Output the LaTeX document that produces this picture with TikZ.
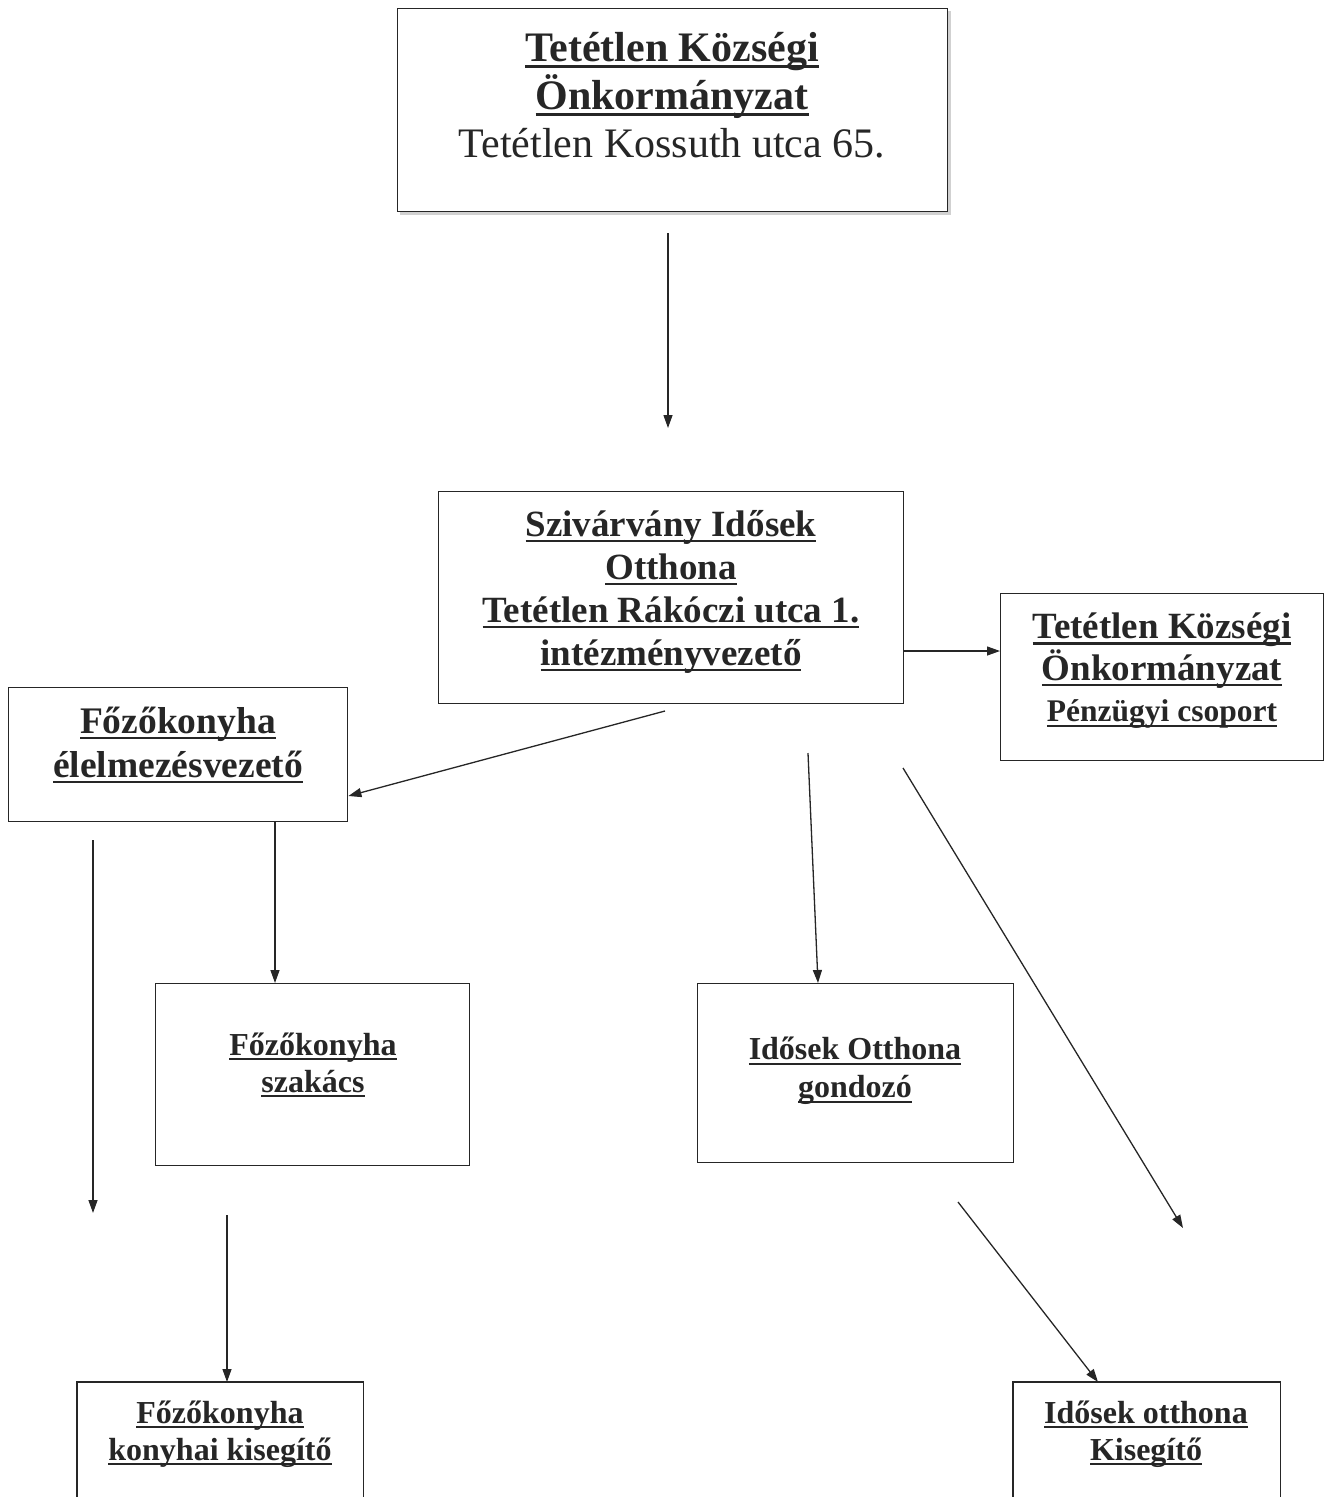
\documentclass[tikz,border=0pt]{standalone}
\usepackage{fontspec}
\setmainfont{Liberation Serif}
\usetikzlibrary{arrows.meta}
\newcommand\myul[1]{\mbox{\setbox0\hbox{#1}\rlap{\rule[-0.16em]{\wd0}{0.065em}}\box0}}
\definecolor{ink}{HTML}{262626}
\begin{document}
\begin{tikzpicture}[x=1pt,y=-1pt,
  box/.style={draw=ink, line width=1.4pt, inner sep=0pt, anchor=north west},
  arr/.style={draw=ink, line width=1.3pt, -{Triangle[length=13pt,width=9pt]}},
  lbl/.style={align=center, inner sep=0pt, text=ink}]
\useasboundingbox (0,0) rectangle (1327,1497);
\clip (0,0) rectangle (1327,1497);
% shadow of top box
\fill[black!18] (400,11) rectangle (951,215);
% boxes
\node[box, fill=white, minimum width=550pt, minimum height=203pt] (top) at (397,8) {};
\node[box, minimum width=465pt, minimum height=212pt] (mid) at (438,491) {};
\node[box, minimum width=323pt, minimum height=167pt] (pen) at (1000,593) {};
\node[box, minimum width=339pt, minimum height=134pt] (fv) at (8,687) {};
\node[box, minimum width=314pt, minimum height=182pt] (sz) at (155,983) {};
\node[box, minimum width=316pt, minimum height=179pt] (go) at (697,983) {};
\node[inner sep=0pt, anchor=north west, minimum width=286pt, minimum height=130pt] (kk) at (77,1382) {};
\node[inner sep=0pt, anchor=north west, minimum width=267pt, minimum height=130pt] (ok) at (1013,1382) {};
\draw[ink, line width=1.4pt] (kk.south west) -- (kk.north west) -- (kk.north east) -- (kk.south east);
\draw[ink, line width=1.4pt] (ok.south west) -- (ok.north west) -- (ok.north east) -- (ok.south east);
% texts
\node[lbl, font={\fontsize{42}{48}\selectfont}] (ttop) at (672,95)
  {\textbf{\myul{Tetétlen Községi}}\\ \textbf{\myul{Önkormányzat}}\\ Tetétlen Kossuth utca 65.};
\node[lbl, font={\fontsize{37}{43}\selectfont\bfseries}] (tmid) at (671,592)
  {\myul{Szivárvány Idősek}\\ \myul{Otthona}\\ \myul{Tetétlen Rákóczi utca 1.}\\ \myul{intézményvezető}};
\node[lbl, font={\fontsize{37}{41.5}\selectfont\bfseries}] (tpen) at (1162,671)
  {\myul{Tetétlen Községi}\\ \myul{Önkormányzat}\\ {\fontsize{31.5}{41.5}\selectfont\myul{Pénzügyi csoport}}};
\node[lbl, font={\fontsize{37.5}{44}\selectfont\bfseries}] (tfv) at (178,745)
  {\myul{Főzőkonyha}\\ \myul{élelmezésvezető}};
\node[lbl, font={\fontsize{32}{37}\selectfont\bfseries}] (tsz) at (313,1065)
  {\myul{Főzőkonyha}\\ \myul{szakács}};
\node[lbl, font={\fontsize{32}{38}\selectfont\bfseries}] (tgo) at (855,1071)
  {\myul{Idősek Otthona}\\ \myul{gondozó}};
\node[lbl, font={\fontsize{32}{37}\selectfont\bfseries}] (tkk) at (220,1434)
  {\myul{Főzőkonyha}\\ \myul{konyhai kisegítő}};
\node[lbl, font={\fontsize{32}{37}\selectfont\bfseries}] (tok) at (1146,1434)
  {\myul{Idősek otthona}\\ \myul{Kisegítő}};
% free connector ends
\coordinate (a1s) at (668,233);
\coordinate (a1e) at (668,428);
\coordinate (a3s) at (665,711);
\coordinate (a4s) at (808,753);
\coordinate (a5s) at (903,768);
\coordinate (a5e) at (1183,1228);
\coordinate (a6s) at (93,840);
\coordinate (a6e) at (93,1213);
\coordinate (a8s) at (227,1215);
\coordinate (a9s) at (958,1202);
% connectors
\draw[arr] (a1s) -- (a1e);
\draw[arr] (mid.east |- 0,651) -- (pen.west |- 0,651);
\draw[arr] (a3s) -- (fv.east |- 0,796);
\draw[arr] (a4s) -- (go.north -| 818,0);
\draw[arr] (a5s) -- (a5e);
\draw[arr] (a6s) -- (a6e);
\draw[arr] (fv.south -| 275,0) -- (sz.north -| 275,0);
\draw[arr] (a8s) -- (kk.north -| 227,0);
\draw[arr] (a9s) -- (ok.north -| 1098,0);
\end{tikzpicture}
\end{document}
